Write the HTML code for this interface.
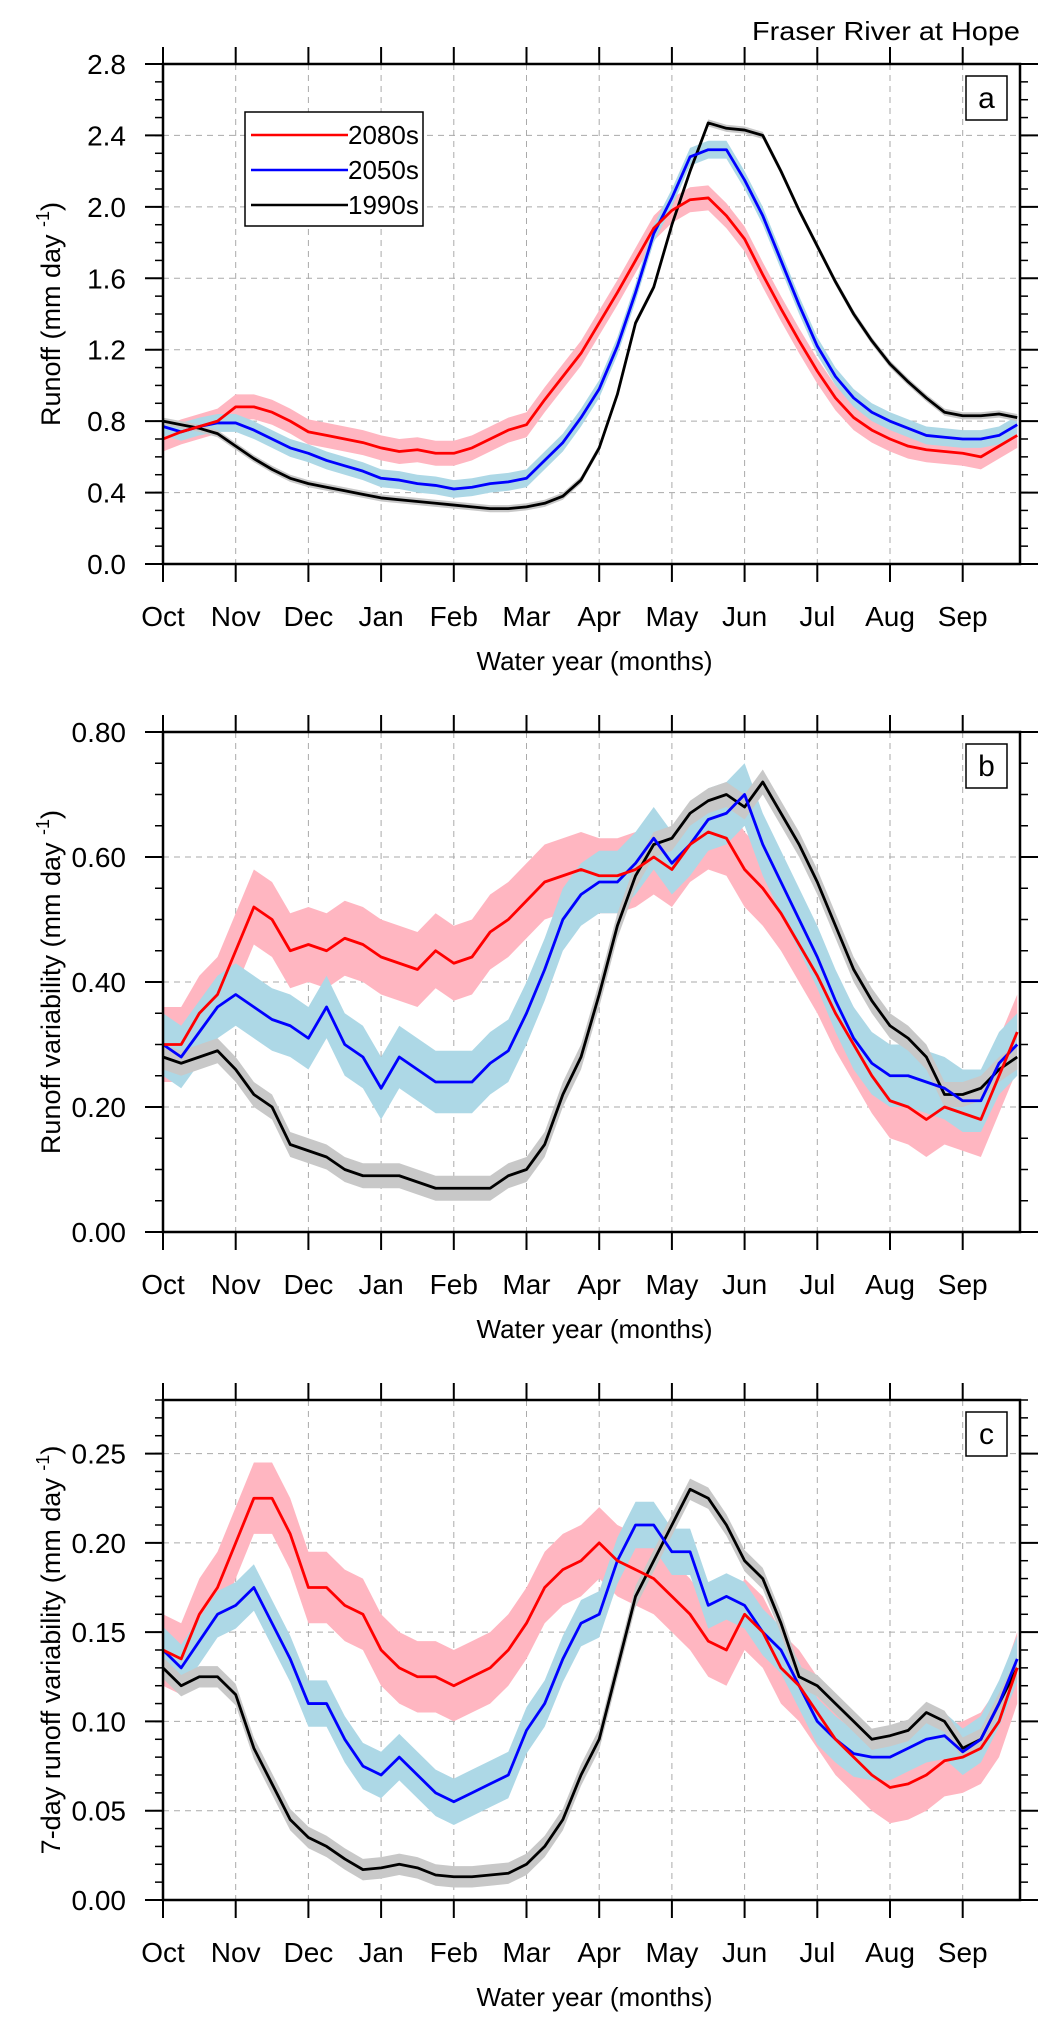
<!DOCTYPE html>
<html><head><meta charset="utf-8"><style>
html,body{margin:0;padding:0;background:#fff;}
svg{display:block;font-family:"Liberation Sans",Arial,sans-serif;}
</style></head><body>
<svg id="fig" width="1049" height="2031" viewBox="0 0 1049 2031" xmlns="http://www.w3.org/2000/svg">
<text x="1020" y="40" text-anchor="end" font-size="26" textLength="268" lengthAdjust="spacingAndGlyphs">Fraser River at Hope</text>
</svg>
<script>
const months = ["Oct","Nov","Dec","Jan","Feb","Mar","Apr","May","Jun","Jul","Aug","Sep"];
const xPos = [0,0.25,0.5,0.75,1,1.25,1.5,1.75,2,2.25,2.5,2.75,3,3.25,3.5,3.75,4,4.25,4.5,4.75,5,5.25,5.5,5.75,6,6.25,6.5,6.75,7,7.25,7.5,7.75,8,8.25,8.5,8.75,9,9.25,9.5,9.75,10,10.25,10.5,10.75,11,11.25,11.5,11.75];
const seriesNames = ["2080s","2050s","1990s"];
// Panel a
const aRed = [0.70,0.74,0.77,0.80,0.88,0.88,0.85,0.80,0.74,0.72,0.70,0.68,0.65,0.63,0.64,0.62,0.62,0.65,0.70,0.75,0.78,0.92,1.05,1.18,1.35,1.52,1.70,1.88,1.98,2.04,2.05,1.95,1.82,1.62,1.43,1.25,1.08,0.93,0.82,0.75,0.70,0.66,0.64,0.63,0.62,0.60,0.66,0.72];
const aBlue = [0.77,0.74,0.77,0.79,0.79,0.75,0.70,0.65,0.62,0.58,0.55,0.52,0.48,0.47,0.45,0.44,0.42,0.43,0.45,0.46,0.48,0.58,0.68,0.82,0.98,1.22,1.52,1.85,2.05,2.28,2.32,2.32,2.15,1.95,1.70,1.45,1.22,1.05,0.93,0.85,0.80,0.76,0.72,0.71,0.70,0.70,0.72,0.78];
const aBlack = [0.80,0.78,0.76,0.73,0.66,0.59,0.53,0.48,0.45,0.43,0.41,0.39,0.37,0.36,0.35,0.34,0.33,0.32,0.31,0.31,0.32,0.34,0.38,0.47,0.65,0.95,1.35,1.55,1.90,2.20,2.47,2.44,2.43,2.40,2.20,1.98,1.78,1.58,1.40,1.25,1.12,1.02,0.93,0.85,0.83,0.83,0.84,0.82];
const aSpread = [0.07,0.05,0.02];
const aTicks = ["0.0","0.4","0.8","1.2","1.6","2.0","2.4","2.8"];
// Panel b
const bRed = [0.30,0.30,0.35,0.38,0.45,0.52,0.50,0.45,0.46,0.45,0.47,0.46,0.44,0.43,0.42,0.45,0.43,0.44,0.48,0.50,0.53,0.56,0.57,0.58,0.57,0.57,0.58,0.60,0.58,0.62,0.64,0.63,0.58,0.55,0.51,0.46,0.41,0.35,0.30,0.25,0.21,0.20,0.18,0.20,0.19,0.18,0.25,0.32];
const bBlue = [0.30,0.28,0.32,0.36,0.38,0.36,0.34,0.33,0.31,0.36,0.30,0.28,0.23,0.28,0.26,0.24,0.24,0.24,0.27,0.29,0.35,0.42,0.50,0.54,0.56,0.56,0.59,0.63,0.59,0.62,0.66,0.67,0.70,0.62,0.56,0.50,0.44,0.37,0.31,0.27,0.25,0.25,0.24,0.23,0.21,0.21,0.27,0.30];
const bBlack = [0.28,0.27,0.28,0.29,0.26,0.22,0.20,0.14,0.13,0.12,0.10,0.09,0.09,0.09,0.08,0.07,0.07,0.07,0.07,0.09,0.10,0.14,0.22,0.28,0.38,0.49,0.57,0.62,0.63,0.67,0.69,0.70,0.68,0.72,0.67,0.62,0.56,0.49,0.42,0.37,0.33,0.31,0.28,0.22,0.22,0.23,0.26,0.28];
const bSpread = [0.06,0.05,0.02];
const bTicks = ["0.00","0.20","0.40","0.60","0.80"];
// Panel c
const cRed = [0.14,0.135,0.16,0.175,0.20,0.225,0.225,0.205,0.175,0.175,0.165,0.16,0.14,0.13,0.125,0.125,0.12,0.125,0.13,0.14,0.155,0.175,0.185,0.19,0.20,0.19,0.185,0.18,0.17,0.16,0.145,0.14,0.16,0.15,0.13,0.12,0.105,0.09,0.08,0.07,0.063,0.065,0.07,0.078,0.08,0.085,0.10,0.13];
const cBlue = [0.14,0.13,0.145,0.16,0.165,0.175,0.155,0.135,0.11,0.11,0.09,0.075,0.07,0.08,0.07,0.06,0.055,0.06,0.065,0.07,0.095,0.11,0.135,0.155,0.16,0.19,0.21,0.21,0.195,0.195,0.165,0.17,0.165,0.15,0.14,0.12,0.10,0.09,0.082,0.08,0.08,0.085,0.09,0.092,0.083,0.09,0.11,0.135];
const cBlack = [0.13,0.12,0.125,0.125,0.115,0.085,0.065,0.045,0.035,0.03,0.023,0.017,0.018,0.02,0.018,0.014,0.013,0.013,0.014,0.015,0.02,0.03,0.045,0.07,0.09,0.13,0.17,0.19,0.21,0.23,0.225,0.21,0.19,0.18,0.155,0.125,0.12,0.11,0.10,0.09,0.092,0.095,0.105,0.10,0.085,0.09,0.11,0.13];
const cSpread = [0.02,0.013,0.006];
const cTicks = ["0.00","0.05","0.10","0.15","0.20","0.25"];

const NS = "http://www.w3.org/2000/svg";
const svg = document.getElementById('fig');
const X0 = 163, X1 = 1020, MW = 72.7;
function xs(m){ return X0 + m*MW; }
function mk(tag, attrs, parent){
  const e = document.createElementNS(NS, tag);
  for (const k in attrs) e.setAttribute(k, attrs[k]);
  (parent||svg).appendChild(e); return e;
}
const lineCols = ["#ff0000","#0000ff","#000000"];
const bandCols = ["#ffb6c1","#add8e6","#c8c8c8"];

function panel(key, top, ymax, tickLabels, tickStep, minorStep, seriesList, spreads, ytitle, letter, legend){
  const bot = top + 500;
  const ys = v => bot - v/ymax*500;
  const g = mk('g', {});
  
  
  for (let i=1;i<12;i++){
    const l = mk('line',{x1:xs(i),x2:xs(i),y1:top,y2:bot,stroke:'#aaa','stroke-width':1,'stroke-dasharray':'6,5'},g);
     
  }
  tickLabels.forEach((t,i)=>{
    const v = i*tickStep;
    if (v>0 && v<ymax-1e-9){
      const l = mk('line',{x1:X0,x2:X1,y1:ys(v),y2:ys(v),stroke:'#aaa','stroke-width':1,'stroke-dasharray':'6,5'},g);
       
    }
  });
  seriesList.forEach((arr,si)=>{
    let up = arr.map((v,i)=>xs(xPos[i])+','+ys(Math.min(ymax,v+spreads[si])));
    let dn = arr.map((v,i)=>xs(xPos[i])+','+ys(Math.max(0,v-spreads[si]))).reverse();
    const p = mk('polygon',{points:up.concat(dn).join(' '),fill:bandCols[si],stroke:'none'},g);
    
    
  });
  [2,1,0].forEach(si=>{
    const arr = seriesList[si];
    const p = mk('polyline',{points:arr.map((v,i)=>xs(xPos[i])+','+ys(v)).join(' '),fill:'none',stroke:lineCols[si],'stroke-width':2.8,'stroke-linejoin':'round'},g);
    
    
  });
  const fr = mk('rect',{x:X0,y:top,width:X1-X0,height:500,fill:'none',stroke:'#000','stroke-width':2.5},g);
   
  for (let i=0;i<12;i++){
    mk('line',{x1:xs(i),x2:xs(i),y1:top,y2:top-17,stroke:'#000','stroke-width':2},g);
    mk('line',{x1:xs(i),x2:xs(i),y1:bot,y2:bot+18,stroke:'#000','stroke-width':2},g);
    const t = mk('text',{x:xs(i),y:bot+62,'text-anchor':'middle','font-size':28},g);
    t.textContent = months[i];
     
  }
  for (let v=0; v<=ymax+1e-9; v+=minorStep){
    mk('line',{x1:X0,x2:X0-8,y1:ys(v),y2:ys(v),stroke:'#000','stroke-width':1.5},g);
    mk('line',{x1:X1,x2:X1+8,y1:ys(v),y2:ys(v),stroke:'#000','stroke-width':1.5},g);
  }
  tickLabels.forEach((lab,i)=>{
    const v = i*tickStep;
    mk('line',{x1:X0,x2:X0-18,y1:ys(v),y2:ys(v),stroke:'#000','stroke-width':2},g);
    mk('line',{x1:X1,x2:X1+18,y1:ys(v),y2:ys(v),stroke:'#000','stroke-width':2},g);
    const t = mk('text',{x:126,y:ys(v)+10,'text-anchor':'end','font-size':28},g);
    t.textContent = lab;
     
  });
  const xt = mk('text',{x:(X0+X1)/2+3,y:bot+106,'text-anchor':'middle','font-size':26},g);
  xt.textContent = 'Water year (months)';
   
  const yt = mk('text',{x:0,y:0,'text-anchor':'middle','font-size':27,transform:'translate(60,'+(top+250)+') rotate(-90)'},g);
  yt.innerHTML = ytitle + ' (mm day <tspan dy="-11" font-size="18">-1</tspan><tspan dy="11">)</tspan>';
   
  const lb = mk('rect',{x:966,y:top+12,width:41,height:44,fill:'#fff',stroke:'#000','stroke-width':1.5},g);
   
  const lt = mk('text',{x:986.5,y:top+44,'text-anchor':'middle','font-size':30},g);
  lt.textContent = letter;
   
  if (legend){
    const lg = mk('g',{},g);
     
    mk('rect',{x:245,y:112,width:178,height:114,fill:'#fff',stroke:'#000','stroke-width':1.5},lg);
    seriesNames.forEach((n,si)=>{
      const y = 135 + si*35;
      const e = mk('g',{},lg);
       
      mk('line',{x1:251,x2:348,y1:y,y2:y,stroke:lineCols[si],'stroke-width':2.5},e);
      const t = mk('text',{x:348,y:y+9,'font-size':26},e);
      t.textContent = n;
    });
  }
}
panel('a', 64, 2.8, aTicks, 0.4, 0.1, [aRed,aBlue,aBlack], aSpread, 'Runoff', 'a', true);
panel('b', 732, 0.8, bTicks, 0.2, 0.05, [bRed,bBlue,bBlack], bSpread, 'Runoff variability', 'b', false);
panel('c', 1400, 0.28, cTicks, 0.05, 0.01, [cRed,cBlue,cBlack], cSpread, '7-day runoff variability', 'c', false);
</script>
</body></html>
